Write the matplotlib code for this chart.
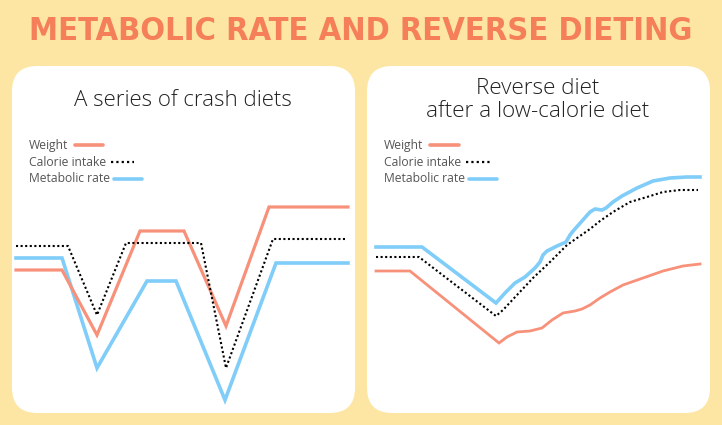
import matplotlib
matplotlib.use("Agg")
import matplotlib.pyplot as plt
from matplotlib.patches import FancyBboxPatch

W, H = 722, 425
BG = "#FDE6A3"
ORANGE = "#F7917A"
BLUE = "#7FCDF8"
TITLE_C = "#F47F58"

# ---- data: left panel (a series of crash diets); x = time, y = level ----
crash_weight_x = [0, 46, 81, 124, 168, 210, 253, 332]
crash_weight_y = [155, 155, 90, 194, 194, 99, 218, 218]
crash_cal_x = [0, 52, 81, 110, 185, 210, 257, 329]
crash_cal_y = [179, 179, 110, 182, 182, 57, 186, 186]
crash_met_x = [0, 46, 81, 131, 160, 209, 260, 332]
crash_met_y = [167, 167, 57, 144, 144, 25, 162, 162]

# ---- data: right panel (reverse diet after a low-calorie diet) ----
rev_weight_x = [0, 34, 123, 131, 141, 154, 166, 176, 187, 199, 206, 214, 224, 234, 247, 267, 287, 307, 324]
rev_weight_y = [154, 154, 82, 88, 93, 94, 97, 105, 112, 114, 116, 120, 127, 133, 140, 147, 154, 159, 161]
rev_cal_x = [0, 43, 120, 127, 141, 157, 174, 191, 214, 224, 237, 254, 271, 287, 304, 322]
rev_cal_y = [168, 168, 109, 115, 130, 147, 163, 180, 196, 204, 213, 223, 228, 233, 235, 235]
rev_met_x = [0, 46, 120, 129, 139, 149, 159, 164, 167, 171, 181, 190, 194, 198, 214, 219, 226, 230, 237, 246, 261, 277, 294, 311, 324]
rev_met_y = [178, 178, 122, 132, 142, 148, 157, 163, 170, 174, 179, 183, 190, 195, 213, 216, 215, 217, 223, 229, 237, 244, 247, 248, 248]

legend_labels = ["Weight", "Calorie intake", "Metabolic rate"]
main_title = "METABOLIC RATE AND REVERSE DIETING"
panel_titles = ["A series of crash diets", "Reverse diet\nafter a low-calorie diet"]

fig = plt.figure(figsize=(W / 100, H / 100), dpi=100)
fig.patch.set_facecolor(BG)

def fx(px):
    return px / W

def fy(py):
    return 1 - py / H

# panels: (left, top, right, bottom) in px
panels = [(12, 66, 355, 413), (367, 66, 710, 413)]
for (l, t, r, b) in panels:
    patch = FancyBboxPatch((fx(l), fy(b)), fx(r - l), (b - t) / H,
                           boxstyle="round,pad=0,rounding_size=0.035",
                           transform=fig.transFigure, facecolor="white",
                           edgecolor="none", mutation_aspect=W / H, zorder=-1)
    fig.patches.append(patch)

fig.text(fx(361), fy(31), main_title, ha="center", va="center",
         fontsize=23.4, fontweight="bold", color=TITLE_C,
         family="DejaVu Sans", fontstretch="condensed")

def make_ax(l, t, r, b, x0):
    ax = fig.add_axes([fx(l), fy(b), fx(r - l), (b - t) / H])
    ax.set_xlim(l - x0, r - x0)
    ax.set_ylim((H - b), (H - t))
    ax.axis("off")
    ax.patch.set_alpha(0)
    ax.set_zorder(1)
    return ax

ax1 = make_ax(12, 66, 355, 413, 16)
ax2 = make_ax(367, 66, 710, 413, 376)

def add_ax_data(ax, wx, wy, cx, cy, mx, my, wlw):
    ax.plot(wx, wy, color=ORANGE, lw=wlw, solid_joinstyle="miter", zorder=3)
    ax.plot(cx, cy, color="black", lw=1.5, linestyle=(0, (1, 1.2)), zorder=4)
    ax.plot(mx, my, color=BLUE, lw=2.6, solid_joinstyle="miter", zorder=2)

add_ax_data(ax1, crash_weight_x, crash_weight_y, crash_cal_x, crash_cal_y,
            crash_met_x, crash_met_y, 2.3)
add_ax_data(ax2, rev_weight_x, rev_weight_y, rev_cal_x, rev_cal_y,
            rev_met_x, rev_met_y, 2.0)

# panel titles
fig.text(fx(183), fy(100), panel_titles[0], ha="center", va="center",
         fontsize=16, fontweight="light", color="#222222", family="Open Sans")
fig.text(fx(538), fy(100), panel_titles[1], ha="center", va="center",
         fontsize=16.2, fontweight="light", color="#222222", family="Open Sans",
         linespacing=1.1)

# legends
def legend(x_text, y_rows, seg):
    styles = [dict(color=ORANGE, lw=2.6, solid_capstyle="round"),
              dict(color="black", lw=1.6, linestyle=(0, (1, 1.4))),
              dict(color=BLUE, lw=2.6, solid_capstyle="round")]
    for lab, yy, (s0, s1), st in zip(legend_labels, y_rows, seg, styles):
        fig.text(fx(x_text), fy(yy), lab, ha="left", va="center",
                 fontsize=8.7, color="#555555", family="Open Sans")
        fig.add_artist(plt.Line2D([fx(s0), fx(s1)], [fy(yy), fy(yy)],
                                  transform=fig.transFigure, **st))

legend(29, [145, 162, 179], [(75, 103), (111, 134), (114, 142)])
legend(384, [145, 162, 179], [(430, 459), (466, 490), (469, 497)])

fig.savefig("out.png", dpi=100, facecolor=BG)
